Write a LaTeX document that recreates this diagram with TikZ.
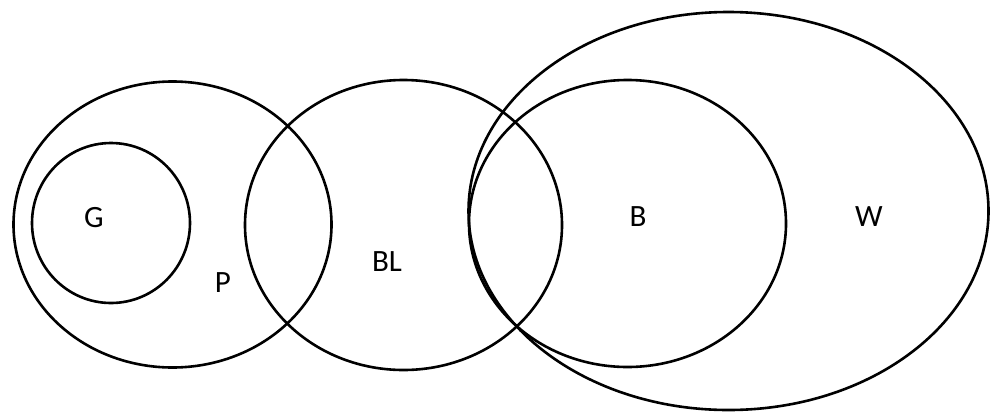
\documentclass[tikz,border=0pt]{standalone}
\usepackage{fontspec}
\setmainfont{Carlito}
\begin{document}
\begin{tikzpicture}[x=1pt,y=-1pt,
  setline/.style={draw=black,line width=2.6pt},
  setlabel/.style={font=\fontsize{31}{31}\selectfont,inner sep=0pt,anchor=center}]
\useasboundingbox (0,0) rectangle (992,413);
\fill[white] (0,0) rectangle (992,413);
% sets
\draw[setline] (172.5,224.5) ellipse [x radius=159pt, y radius=143pt];
\draw[setline] (111,223) ellipse [x radius=79pt, y radius=80pt];
\draw[setline] (403.5,225) ellipse [x radius=158.5pt, y radius=145pt];
\draw[setline] (627.5,223.5) ellipse [x radius=158.5pt, y radius=143.5pt];
\draw[setline] (728.5,211) ellipse [x radius=260pt, y radius=199pt];
% labels
\node[setlabel] (g) at (94,218) {G};
\node[setlabel] (p) at (223,283) {P};
\node[setlabel] (bl) at (387,262) {BL};
\node[setlabel] (b) at (638,217) {B};
\node[setlabel] (w) at (869,217) {W};
\end{tikzpicture}
\end{document}
